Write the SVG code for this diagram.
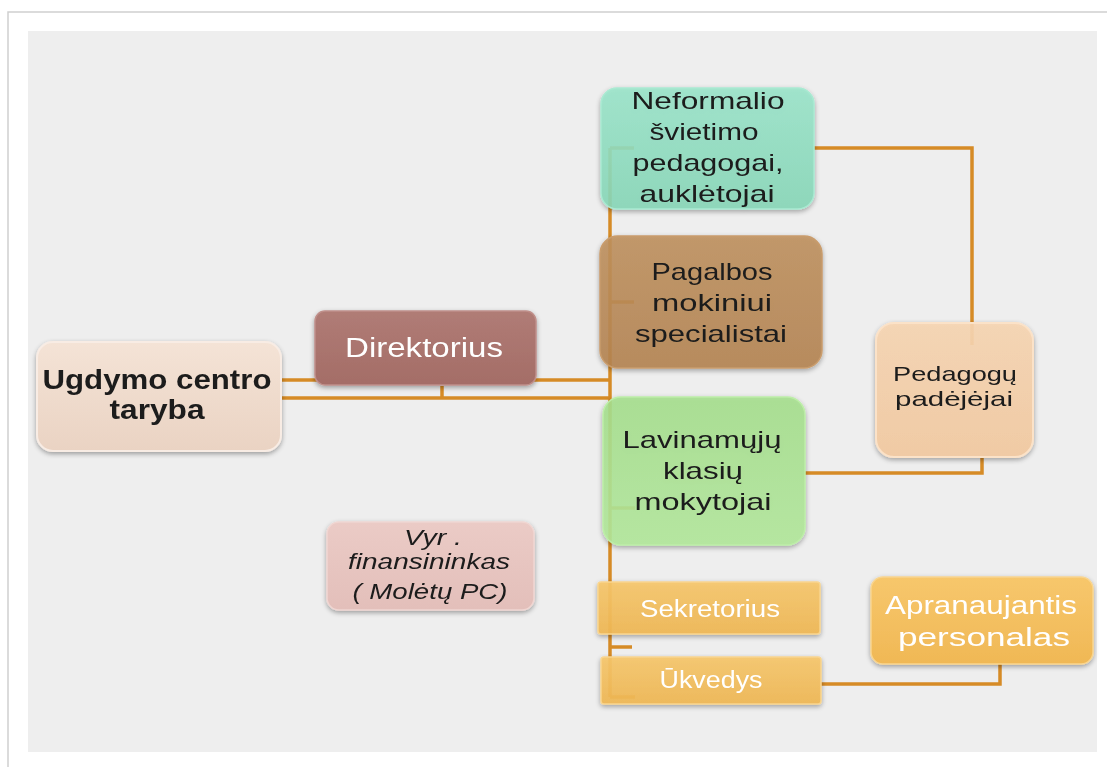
<svg xmlns="http://www.w3.org/2000/svg" width="1107" height="767" viewBox="0 0 1107 767">
<defs>
<filter id="sh" x="-10%" y="-10%" width="120%" height="130%">
<feGaussianBlur in="SourceAlpha" stdDeviation="2.5"/>
<feOffset dx="0" dy="2" result="b"/>
<feComponentTransfer><feFuncA type="linear" slope="0.35"/></feComponentTransfer>
<feMerge><feMergeNode/><feMergeNode in="SourceGraphic"/></feMerge>
</filter>
<linearGradient id="gTar" x1="0" y1="0" x2="0" y2="1"><stop offset="0" stop-color="#f4e3d6"/><stop offset="1" stop-color="#ead3c3"/></linearGradient>
<linearGradient id="gDir" x1="0" y1="0" x2="0" y2="1"><stop offset="0" stop-color="#b07c76"/><stop offset="1" stop-color="#a46d67"/></linearGradient>
<linearGradient id="gNef" x1="0" y1="0" x2="0" y2="1"><stop offset="0" stop-color="#9be6cb"/><stop offset="1" stop-color="#88d8b9"/></linearGradient>
<linearGradient id="gPag" x1="0" y1="0" x2="0" y2="1"><stop offset="0" stop-color="#c0925f"/><stop offset="1" stop-color="#b58452"/></linearGradient>
<linearGradient id="gLav" x1="0" y1="0" x2="0" y2="1"><stop offset="0" stop-color="#a6e08e"/><stop offset="1" stop-color="#b3e99c"/></linearGradient>
<linearGradient id="gPed" x1="0" y1="0" x2="0" y2="1"><stop offset="0" stop-color="#f8d6b3"/><stop offset="1" stop-color="#f4cba2"/></linearGradient>
<linearGradient id="gVyr" x1="0" y1="0" x2="0" y2="1"><stop offset="0" stop-color="#ebcbc6"/><stop offset="1" stop-color="#e3bfba"/></linearGradient>
<linearGradient id="gOr" x1="0" y1="0" x2="0" y2="1"><stop offset="0" stop-color="#f7c76c"/><stop offset="1" stop-color="#f0b855"/></linearGradient>
</defs>
<style>
.con{fill:none;stroke:#d68b26;stroke-width:3.5;stroke-linejoin:miter}
.box{filter:url(#sh)}
.t{font-family:"Liberation Sans",Arial,sans-serif;text-anchor:middle;fill:#1c1c1c}
.w{fill:#ffffff}
.b{font-weight:bold}
.i{font-style:italic}
</style>
<rect x="0" y="0" width="1107" height="767" fill="#ffffff"/>
<rect x="8" y="12" width="1110" height="770" fill="#ffffff" stroke="#cfcfcf" stroke-width="1.5"/>
<rect x="28" y="31" width="1069" height="721" fill="#eeeeee"/>

<g id="connectors">
<path class="con" d="M282 380 H610"/>
<path class="con" d="M282 398 H610"/>
<path class="con" d="M442 386 V398"/>
<path class="con" d="M610 148 V697"/>
<path class="con" d="M610 148 H634"/>
<path class="con" d="M610 302 H634"/>
<path class="con" d="M610 508 H635"/>
<path class="con" d="M610 647 H632"/>
<path class="con" d="M610 697 H635"/>
<path class="con" d="M814 148 H972 V345"/>
<path class="con" d="M805 473 H982 V457"/>
<path class="con" d="M821 684 H1000 V664"/>
</g>

<g id="taryba" class="box">
<rect x="37" y="342" width="244" height="109" rx="16" fill="url(#gTar)" stroke="#f8ece4" stroke-width="2"/>
<text class="t b" x="157" y="389" font-size="27" textLength="229" lengthAdjust="spacingAndGlyphs">Ugdymo centro</text>
<text class="t b" x="157" y="419" font-size="27" textLength="95" lengthAdjust="spacingAndGlyphs">taryba</text>
</g>

<g id="direktorius" class="box">
<rect x="315" y="311" width="221" height="74" rx="10" fill="url(#gDir)" stroke="#bf8f8a" stroke-width="1.5"/>
<text class="t w" x="424" y="357" font-size="27" textLength="158" lengthAdjust="spacingAndGlyphs">Direktorius</text>
</g>

<g id="neformalio" class="box">
<rect x="601" y="88" width="213" height="121" rx="16" fill="url(#gNef)" fill-opacity="0.88" stroke="#a9ead2" stroke-width="1.5"/>
<text class="t" x="708" y="109" font-size="24" textLength="153" lengthAdjust="spacingAndGlyphs">Neformalio</text>
<text class="t" x="704" y="140" font-size="24" textLength="109" lengthAdjust="spacingAndGlyphs">švietimo</text>
<text class="t" x="708" y="171" font-size="24" textLength="151" lengthAdjust="spacingAndGlyphs">pedagogai,</text>
<text class="t" x="707" y="202" font-size="24" textLength="135" lengthAdjust="spacingAndGlyphs">auklėtojai</text>
</g>

<g id="pagalbos" class="box">
<rect x="600" y="236" width="222" height="132" rx="18" fill="url(#gPag)" fill-opacity="0.88" stroke="#c99c6c" stroke-width="1.5"/>
<text class="t" x="712" y="280" font-size="24" textLength="121" lengthAdjust="spacingAndGlyphs">Pagalbos</text>
<text class="t" x="712" y="311" font-size="24" textLength="120" lengthAdjust="spacingAndGlyphs">mokiniui</text>
<text class="t" x="711" y="342" font-size="24" textLength="152" lengthAdjust="spacingAndGlyphs">specialistai</text>
</g>

<g id="lavinamuju" class="box">
<rect x="603" y="397" width="202" height="148" rx="18" fill="url(#gLav)" fill-opacity="0.88" stroke="#bdeea8" stroke-width="1.5"/>
<text class="t" x="702" y="448" font-size="24" textLength="159" lengthAdjust="spacingAndGlyphs">Lavinamųjų</text>
<text class="t" x="703" y="479" font-size="24" textLength="80" lengthAdjust="spacingAndGlyphs">klasių</text>
<text class="t" x="703" y="510" font-size="24" textLength="137" lengthAdjust="spacingAndGlyphs">mokytojai</text>
</g>

<g id="pedagogu" class="box">
<rect x="876" y="323" width="157" height="134" rx="18" fill="url(#gPed)" fill-opacity="0.9" stroke="#fbe2c8" stroke-width="2"/>
<text class="t" x="955" y="381" font-size="21" textLength="124" lengthAdjust="spacingAndGlyphs">Pedagogų</text>
<text class="t" x="954" y="406" font-size="21" textLength="118" lengthAdjust="spacingAndGlyphs">padėjėjai</text>
</g>

<g id="vyr" class="box">
<rect x="327" y="522" width="207" height="88" rx="12" fill="url(#gVyr)" stroke="#f0d6d2" stroke-width="1.5"/>
<text class="t i" x="433" y="545" font-size="22" textLength="58" lengthAdjust="spacingAndGlyphs">Vyr .</text>
<text class="t i" x="429" y="569" font-size="22" textLength="162" lengthAdjust="spacingAndGlyphs">finansininkas</text>
<text class="t i" x="430" y="599" font-size="22" textLength="155" lengthAdjust="spacingAndGlyphs">( Molėtų PC)</text>
</g>

<g id="sekretorius" class="box">
<rect x="598" y="582" width="222" height="52" rx="3" fill="url(#gOr)" fill-opacity="0.92" stroke="#f9d58f" stroke-width="1.5"/>
<text class="t w" x="710" y="617" font-size="23" textLength="140" lengthAdjust="spacingAndGlyphs">Sekretorius</text>
</g>

<g id="ukvedys" class="box">
<rect x="601" y="657" width="220" height="47" rx="3" fill="url(#gOr)" fill-opacity="0.92" stroke="#f9d58f" stroke-width="1.5"/>
<text class="t w" x="711" y="688" font-size="23" textLength="103" lengthAdjust="spacingAndGlyphs">Ūkvedys</text>
</g>

<g id="apranaujantis" class="box">
<rect x="871" y="577" width="222" height="87" rx="12" fill="url(#gOr)" stroke="#f9d58f" stroke-width="1.5"/>
<text class="t w" x="981" y="614" font-size="25" textLength="192" lengthAdjust="spacingAndGlyphs">Apranaujantis</text>
<text class="t w" x="984" y="646" font-size="25" textLength="172" lengthAdjust="spacingAndGlyphs">personalas</text>
</g>
</svg>
